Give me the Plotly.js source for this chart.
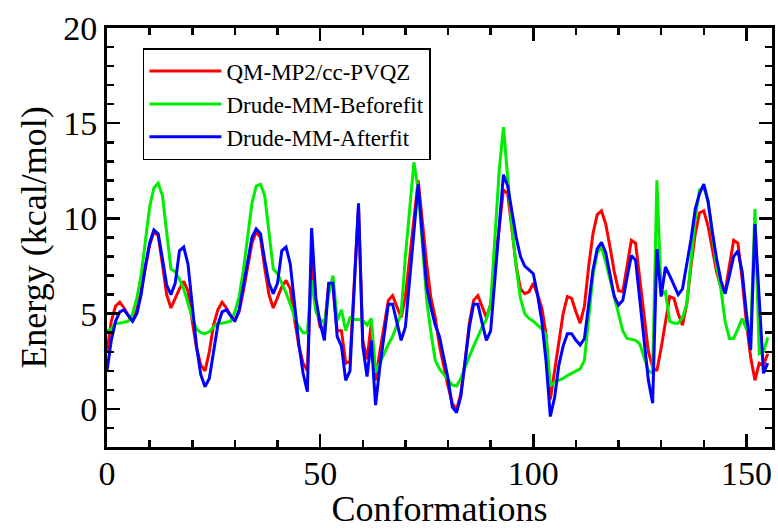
<!DOCTYPE html>
<html>
<head>
<meta charset="utf-8">
<script src="https://cdn.plot.ly/plotly-3.0.1.min.js"></script>
<style>
html,body{margin:0;padding:0;background:#fff;}
#chart{width:778px;height:529px;}
</style>
</head>
<body>
<div id="chart"></div>
<script>
const seriesNames = ["QM-MP2/cc-PVQZ", "Drude-MM-Beforefit", "Drude-MM-Afterfit"];

const qm = [3.0,4.6,5.4,5.6,5.3,4.9,4.6,5.2,6.2,7.4,8.6,9.3,9.1,7.6,6.0,5.3,5.8,6.3,6.7,6.2,
4.6,3.2,2.3,2.0,3.0,4.4,5.2,5.6,5.3,4.9,4.65,5.1,6.2,7.5,8.7,9.3,9.0,7.4,6.0,5.3,
5.9,6.4,6.75,6.3,4.7,3.3,2.4,2.0,8.0,5.5,4.3,4.2,6.5,6.4,4.1,4.1,2.4,2.5,6.6,10.6,
3.6,2.6,4.5,1.5,3.0,4.4,5.7,5.95,5.4,4.8,5.9,8.0,10.1,12.0,9.8,7.6,5.8,4.8,3.3,2.2,
1.2,0.3,-0.05,0.8,2.5,4.5,5.7,5.95,5.4,4.8,5.5,7.5,9.6,11.5,11.3,9.3,7.5,6.3,6.05,6.15,
6.6,6.0,5.3,3.9,0.5,2.0,3.6,5.0,5.9,5.8,5.1,4.5,5.4,7.5,9.2,10.2,10.4,9.7,8.5,7.2,
6.2,6.15,7.5,8.85,8.7,6.8,4.8,3.0,2.2,2.0,3.2,4.6,5.9,5.8,5.0,4.4,5.5,7.5,9.2,10.3,
10.4,9.6,8.4,7.2,6.4,6.15,7.5,8.85,8.7,6.8,4.5,2.7,1.5,2.4,2.3,2.9];

const beforefit = [4.1,4.2,4.5,4.5,4.55,4.6,5.0,5.8,7.0,8.9,10.6,11.6,11.85,11.2,9.3,7.35,7.2,6.8,6.3,5.5,
4.8,4.2,4.0,3.95,4.05,4.3,4.5,4.5,4.55,4.6,5.1,5.9,7.3,9.2,10.8,11.7,11.8,11.2,9.3,7.35,
7.1,6.6,6.1,5.5,4.8,4.3,4.0,4.0,6.75,5.1,4.7,4.5,6.0,7.0,4.65,5.2,4.1,4.8,4.7,4.7,
4.65,4.4,4.75,1.9,2.4,2.9,3.4,3.8,4.4,5.0,8.0,10.5,12.95,11.5,8.5,5.7,4.0,2.55,2.1,1.8,
1.5,1.25,1.2,1.6,2.2,2.8,3.3,3.8,4.3,4.7,5.5,9.0,12.5,14.8,12.0,9.5,7.45,5.8,5.0,4.75,
4.6,4.4,4.2,3.9,1.2,1.4,1.5,1.6,1.75,1.87,2.0,2.1,2.55,4.8,7.0,8.2,8.5,7.7,6.8,5.9,
5.0,4.1,3.7,3.65,3.6,3.4,2.7,2.0,1.87,12.0,6.05,6.15,4.6,4.5,4.5,4.8,5.5,7.8,10.0,11.5,
11.65,10.9,9.2,7.5,6.3,4.6,3.7,3.7,4.2,4.75,4.2,3.9,10.5,2.9,3.0,3.75];

const afterfit = [2.0,3.6,4.6,5.1,5.2,4.9,4.6,5.0,6.0,7.5,8.7,9.4,9.2,7.9,6.5,6.0,6.6,8.3,8.5,7.6,
5.4,3.3,1.8,1.17,1.6,3.0,4.4,5.1,5.2,4.9,4.6,5.2,6.5,7.8,9.0,9.45,9.2,7.8,6.6,6.05,
6.6,8.3,8.5,7.6,5.5,3.4,1.87,0.9,9.5,5.8,4.5,3.6,6.6,6.6,3.8,3.3,1.5,2.0,6.4,10.8,
3.3,1.7,3.6,0.2,2.2,3.9,5.5,5.5,4.6,3.6,4.3,6.8,9.3,11.8,9.0,6.4,5.3,4.4,3.8,2.6,
1.6,0.1,-0.2,0.65,2.5,4.3,5.5,5.5,4.5,3.6,4.1,6.8,9.8,12.3,11.7,10.4,9.0,8.0,7.5,7.3,
7.1,6.0,4.6,2.5,-0.4,0.6,2.3,3.3,3.95,3.95,3.6,3.35,3.7,5.5,7.3,8.4,8.75,8.2,7.0,5.9,
5.45,5.7,6.9,8.05,7.8,5.6,3.5,1.5,0.3,8.4,5.9,7.45,7.0,6.5,6.0,6.3,7.5,8.9,10.5,11.3,
11.8,10.9,9.3,7.9,6.75,6.05,7.0,8.0,8.3,7.2,5.0,3.1,9.7,5.8,1.87,2.4];

const conformations = qm.map((_, i) => i);
const xTickVals = [0, 50, 100, 150];
const yTickVals = [0, 5, 10, 15, 20];

const colors = ["#ff0000", "#00ee00", "#0000ff"];
const font = "Liberation Serif, Times New Roman, serif";

const traces = [qm, beforefit, afterfit].map((ys, k) => ({
  x: conformations, y: ys, type: "scatter", mode: "lines",
  name: seriesNames[k], line: {color: colors[k], width: 3}
}));

const axisCommon = {
  showline: true, linecolor: "#000", linewidth: 3, mirror: "allticks",
  ticks: "inside", ticklen: 13, tickwidth: 2.5, tickcolor: "#000",
  showgrid: false, zeroline: false,
  tickfont: {family: font, size: 34, color: "#000"}
};

const layout = {
  width: 778, height: 529,
  margin: {l: 107, r: 6, t: 28, b: 82},
  paper_bgcolor: "#fff", plot_bgcolor: "#fff",
  showlegend: true,
  font: {family: font, color: "#000"},
  xaxis: Object.assign({}, axisCommon, {
    range: [0, 156], tickvals: xTickVals, ticktext: xTickVals.map(String),
    ticklabelstandoff: -6,
    minor: {dtick: 10, tick0: 0, ticklen: 7, tickwidth: 2.5, tickcolor: "#000", ticks: "inside"},
    title: {text: "Conformations", font: {family: font, size: 36, color: "#000"}, standoff: 2}
  }),
  yaxis: Object.assign({}, axisCommon, {
    range: [-2, 20], tickvals: yTickVals, ticktext: yTickVals.map(String),
    minor: {dtick: 1, tick0: 0, ticklen: 7, tickwidth: 2.5, tickcolor: "#000", ticks: "inside"},
    title: {text: "Energy (kcal/mol)", font: {family: font, size: 36, color: "#000"}, standoff: 6}
  }),
  legend: {
    x: 0.054, y: 0.952, xanchor: "left", yanchor: "top",
    bgcolor: "#fff", bordercolor: "#000", borderwidth: 1.5,
    font: {family: font, size: 23, color: "#000"},
    itemwidth: 72, tracegroupgap: 0
  }
};

Plotly.newPlot("chart", traces, layout, {displayModeBar: false, staticPlot: true});
</script>
</body>
</html>
